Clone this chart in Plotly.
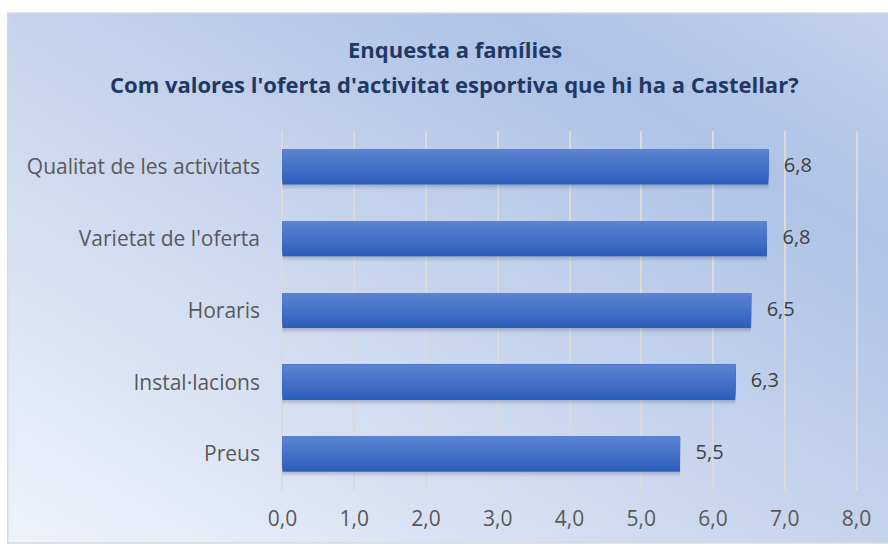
import base64
import plotly.graph_objects as go

# ---- data (top-to-bottom reading order) ----
categories = ["Qualitat de les activitats", "Varietat de l'oferta", "Horaris",
              "Instal·lacions", "Preus"]
values = [6.77, 6.75, 6.53, 6.31, 5.54]
x_ticks = [0, 1, 2, 3, 4, 5, 6, 7, 8]
title_lines = ["Enquesta a famílies",
               "Com valores l'oferta d'activitat esportiva que hi ha a Castellar?"]

W, H = 888, 544
X_LO, X_HI = -0.02, 8.02
PX0, PX8 = 282.6, 856.4           # pixel positions of x=0 and x=8
UNIT = (PX8 - PX0) / 8.0
L = PX0 + X_LO * UNIT
R = PX8 + (X_HI - 8) * UNIT
T, B = 131.0, 490.0               # plot area top/bottom
pw, ph = R - L, B - T
FONT = "Open Sans, Lato, sans-serif"

def px2x(px):
    return (px - L) / pw

def py2y(py):
    return (B - py) / ph

cats_bottom_up = categories[::-1]
vals_bottom_up = values[::-1]

fig = go.Figure()

bar_w = 0.49
# soft shadow under each bar
for k, a in enumerate([0.10, 0.07, 0.04]):
    fig.add_trace(go.Bar(
        y=cats_bottom_up, x=vals_bottom_up, orientation="h",
        width=bar_w, offset=-bar_w / 2 - 0.025 * (k + 1),
        marker=dict(color="rgba(30,40,70,%.2f)" % a, line=dict(width=0)),
        hoverinfo="skip", showlegend=False))

# vertical gradient of the bars, built from overlapping strips
top_c = (0x5C, 0x84, 0xD3)
bot_c = (0x2D, 0x5D, 0xBB)
n = 16
sw = bar_w / n
for i in range(n):
    t = (i + 0.5) / n          # 0 bottom .. 1 top
    c = tuple(int(round(b + (a - b) * t)) for a, b in zip(top_c, bot_c))
    fig.add_trace(go.Bar(
        y=cats_bottom_up, x=vals_bottom_up, orientation="h",
        width=bar_w - i * sw, offset=-bar_w / 2 + i * sw,
        marker=dict(color="rgb(%d,%d,%d)" % c, line=dict(width=0)),
        hoverinfo="skip", showlegend=False))

# value labels
fig.add_trace(go.Scatter(
    y=cats_bottom_up, x=vals_bottom_up, mode="text",
    text=["\u00a0\u00a0\u00a0" + ("%.1f" % v).replace(".", ",") for v in vals_bottom_up],
    textposition="middle right",
    textfont=dict(family=FONT, size=20, color="#404040"),
    cliponaxis=False, hoverinfo="skip", showlegend=False))

# background gradient for the chart area
svg = """<svg xmlns='http://www.w3.org/2000/svg' width='880' height='530' preserveAspectRatio='none'>
<defs><linearGradient id='g' x1='0' y1='1' x2='1' y2='0'>
<stop offset='0' stop-color='#eff3fb'/>
<stop offset='0.45' stop-color='#c9d6ee'/>
<stop offset='0.78' stop-color='#aec3e6'/>
<stop offset='1' stop-color='#c2d1ec'/>
</linearGradient></defs>
<rect width='880' height='530' fill='url(#g)'/></svg>"""
uri = "data:image/svg+xml;base64," + base64.b64encode(svg.encode()).decode()

x0, x1 = px2x(8), px2x(888)
y_top, y_bot = py2y(13), py2y(543)
fig.add_layout_image(dict(
    source=uri, xref="paper", yref="paper",
    x=x0, y=y_top, sizex=x1 - x0, sizey=y_top - y_bot,
    xanchor="left", yanchor="top", sizing="stretch", layer="below"))

# chart border
fig.add_shape(type="rect", xref="paper", yref="paper",
              x0=x0, x1=x1 + 0.02, y0=y_bot, y1=y_top,
              line=dict(color="#d9d9d9", width=1.5), fillcolor="rgba(0,0,0,0)",
              layer="below")

# title lines
for txt, py in zip(title_lines, [49, 84]):
    fig.add_annotation(text="<b>%s</b>" % txt, xref="paper", yref="paper",
                       x=px2x(455), y=py2y(py), xanchor="center", yanchor="middle",
                       showarrow=False,
                       font=dict(family=FONT, size=22, color="#1f3864"))

fig.update_layout(
    width=W, height=H,
    margin=dict(l=L, r=W - R, t=T, b=H - B, pad=0),
    paper_bgcolor="white", plot_bgcolor="rgba(0,0,0,0)",
    barmode="overlay", separators=",.",
    font=dict(family=FONT, color="#595959"),
    xaxis=dict(range=[X_LO, X_HI], tickvals=x_ticks, tickformat=".1f",
               showgrid=True, gridcolor="#dadada", gridwidth=1.5,
               zeroline=False, showline=False, ticks="",
               ticklabelstandoff=14,
               tickfont=dict(family=FONT, size=21, color="#595959"), fixedrange=True),
    yaxis=dict(categoryorder="array", categoryarray=cats_bottom_up,
               showgrid=False, zeroline=False, showline=False, ticks="",
               ticklabelstandoff=20,
               tickfont=dict(family=FONT, size=21, color="#595959"), fixedrange=True),
    showlegend=False,
)

fig.write_html("out.html", config={"displayModeBar": False},
               post_script="document.body.style.margin='0';")
